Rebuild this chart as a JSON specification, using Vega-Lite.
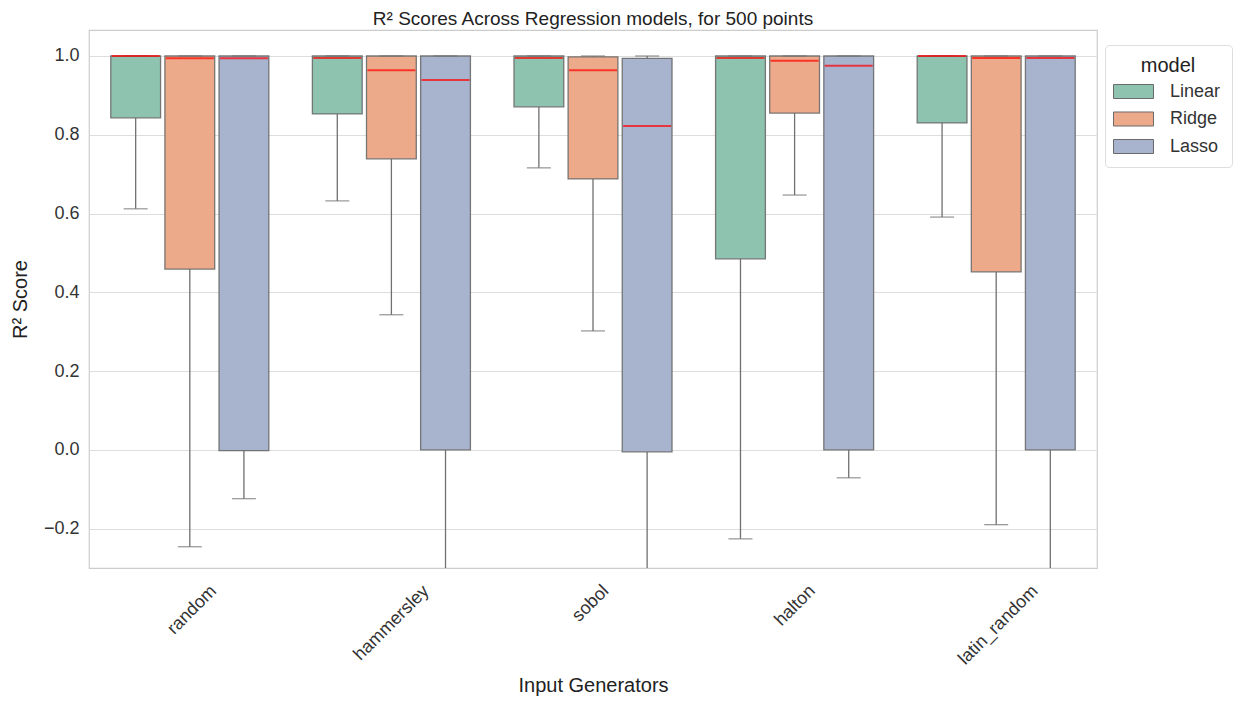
{
  "$schema": "https://vega.github.io/schema/vega-lite/v6.json",
  "width": 1008,
  "height": 538,
  "autosize": {"type": "none"},
  "padding": {"left": 89, "top": 30, "right": 143, "bottom": 134},
  "background": "white",
  "config": {
    "font": "Liberation Sans",
    "view": {"stroke": "#cccccc", "strokeWidth": 1.2},
    "axis": {"labelColor": "#333333", "titleColor": "#222222", "titleFontWeight": "normal", "domain": false, "ticks": false}
  },
  "title": {"text": "R² Scores Across Regression models, for 500 points", "fontSize": 19, "fontWeight": "normal", "color": "#222222", "offset": 1},
  "data": {"values": [
    {"generator": "random", "model": "Linear", "min": 0.612, "q1": 0.843, "median": 1.0, "q3": 1.0, "max": 1.0},
    {"generator": "random", "model": "Ridge", "min": -0.246, "q1": 0.459, "median": 0.994, "q3": 1.0, "max": 1.0},
    {"generator": "random", "model": "Lasso", "min": -0.124, "q1": -0.002, "median": 0.994, "q3": 1.0, "max": 1.0},
    {"generator": "hammersley", "model": "Linear", "min": 0.632, "q1": 0.853, "median": 0.995, "q3": 1.0, "max": 1.0},
    {"generator": "hammersley", "model": "Ridge", "min": 0.343, "q1": 0.739, "median": 0.964, "q3": 1.0, "max": 1.0},
    {"generator": "hammersley", "model": "Lasso", "min": -0.6, "q1": 0.0, "median": 0.939, "q3": 1.0, "max": 1.0},
    {"generator": "sobol", "model": "Linear", "min": 0.716, "q1": 0.871, "median": 0.995, "q3": 1.0, "max": 1.0},
    {"generator": "sobol", "model": "Ridge", "min": 0.302, "q1": 0.688, "median": 0.964, "q3": 0.998, "max": 1.0},
    {"generator": "sobol", "model": "Lasso", "min": -0.6, "q1": -0.005, "median": 0.822, "q3": 0.994, "max": 1.0},
    {"generator": "halton", "model": "Linear", "min": -0.226, "q1": 0.485, "median": 0.995, "q3": 1.0, "max": 1.0},
    {"generator": "halton", "model": "Ridge", "min": 0.647, "q1": 0.855, "median": 0.988, "q3": 1.0, "max": 1.0},
    {"generator": "halton", "model": "Lasso", "min": -0.071, "q1": 0.0, "median": 0.975, "q3": 1.0, "max": 1.0},
    {"generator": "latin_random", "model": "Linear", "min": 0.591, "q1": 0.83, "median": 1.0, "q3": 1.0, "max": 1.0},
    {"generator": "latin_random", "model": "Ridge", "min": -0.19, "q1": 0.452, "median": 0.995, "q3": 1.0, "max": 1.0},
    {"generator": "latin_random", "model": "Lasso", "min": -0.6, "q1": 0.0, "median": 0.995, "q3": 1.0, "max": 1.0}
  ]},
  "encoding": {
    "x": {
      "field": "generator", "type": "nominal",
      "sort": ["random", "hammersley", "sobol", "halton", "latin_random"],
      "scale": {"paddingInner": 0.2, "paddingOuter": 0.1},
      "axis": {
        "title": "Input Generators", "titleFontSize": 20, "titlePadding": 8,
        "labelAngle": -45, "labelAlign": "right", "labelBaseline": "middle", "labelFontSize": 18, "labelPadding": 20,
        "labelOverlap": false, "labelFlush": false, "labelBound": false, "grid": false,
        "labelOffset": {"expr": "datum.value == 'random' ? 24 : datum.value == 'hammersley' ? 35 : datum.value == 'sobol' ? 13 : datum.value == 'halton' ? 18 : 39"}
      }
    },
    "xOffset": {
      "field": "model", "type": "nominal",
      "sort": ["Linear", "Ridge", "Lasso"],
      "scale": {"paddingInner": 0.08, "paddingOuter": 0.03}
    }
  },
  "layer": [
    {
      "mark": {"type": "rule", "color": "#707070", "strokeWidth": 1.3, "clip": true},
      "encoding": {
        "y": {"field": "min", "type": "quantitative", "scale": {"domain": [-0.3, 1.066], "nice": false, "zero": false},
          "axis": {"title": "R² Score", "titleFontSize": 20, "titlePadding": 13, "labelFontSize": 18, "labelPadding": 10, "format": ".1f", "values": [-0.2, 0, 0.2, 0.4, 0.6, 0.8, 1.0], "grid": true, "gridColor": "#dddddd", "gridWidth": 1.2}},
        "y2": {"field": "q1"}
      }
    },
    {
      "mark": {"type": "rule", "color": "#707070", "strokeWidth": 1.3, "clip": true},
      "encoding": {"y": {"field": "q3", "type": "quantitative"}, "y2": {"field": "max"}}
    },
    {
      "mark": {"type": "bar", "stroke": "#6a6a6a", "strokeWidth": 1.3, "strokeOpacity": 0.9, "clip": true},
      "encoding": {
        "y": {"field": "q1", "type": "quantitative"},
        "y2": {"field": "q3"},
        "color": {
          "field": "model", "type": "nominal",
          "sort": ["Linear", "Ridge", "Lasso"],
          "scale": {"domain": ["Linear", "Ridge", "Lasso"], "range": ["#8ec3b0", "#edaa8a", "#a8b3ce"]},
          "legend": {
            "orient": "none", "legendX": 1016, "legendY": 15,
            "title": "model", "titleFontSize": 20, "titleFontWeight": "normal", "titleColor": "#222222", "titleAnchor": "middle", "titlePadding": 0,
            "labelFontSize": 18, "labelColor": "#333333", "labelOffset": 21,
            "symbolType": "M-1.333,-0.467H1.333V0.467H-1.333Z", "symbolSize": 900, "symbolOffset": 2, "symbolStrokeColor": "#6a6a6a", "symbolStrokeWidth": 1, "symbolOpacity": 1,
            "rowPadding": 2.5, "padding": 11, "strokeColor": "#dddddd", "cornerRadius": 4, "fillColor": "white"
          }
        }
      }
    },
    {
      "mark": {"type": "tick", "color": "#707070", "thickness": 1.3, "size": 24, "clip": true},
      "encoding": {"y": {"field": "min", "type": "quantitative"}}
    },
    {
      "mark": {"type": "tick", "color": "#707070", "thickness": 1.3, "size": 24, "clip": true},
      "encoding": {"y": {"field": "max", "type": "quantitative"}}
    },
    {
      "mark": {"type": "tick", "color": "#ff0000", "thickness": 2, "size": 48, "clip": true},
      "encoding": {"y": {"field": "median", "type": "quantitative"}}
    }
  ]
}
